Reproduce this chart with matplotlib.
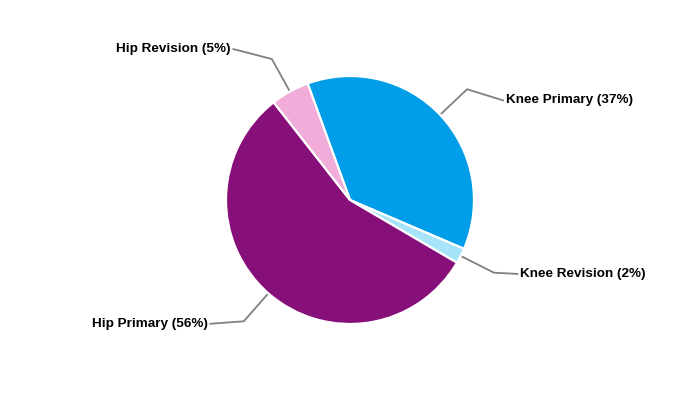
import numpy as np
import matplotlib.pyplot as plt

labels = ['Knee Primary', 'Knee Revision', 'Hip Primary', 'Hip Revision']
shares = [37, 2, 56, 5]
colors = ['#009EE9', '#A6E4FA', '#870F7A', '#F1ACD9']

# leader tail: length and vertical drift, in radius units
tail_len = [0.29, 0.19, 0.27, 0.31]
tail_dy = [-0.09, -0.01, -0.02, 0.08]

fig = plt.figure(figsize=(7, 4), dpi=100)
ax = fig.add_axes([0, 0, 1, 1])

wedges, _ = ax.pie(shares, colors=colors, startangle=110, counterclock=False,
                   radius=1, center=(0, 0),
                   wedgeprops=dict(edgecolor='white', linewidth=1.6))

for w, lab, val, dl, dy in zip(wedges, labels, shares, tail_len, tail_dy):
    mid = np.deg2rad((w.theta1 + w.theta2) / 2)
    x0, y0 = np.cos(mid), np.sin(mid)
    x1, y1 = 1.3 * x0, 1.3 * y0
    side = 1 if x0 > 0 else -1
    x2, y2 = x1 + side * dl, y1 + dy
    ax.plot([x0, x1, x2], [y0, y1, y2], color='#808080', lw=1.3, zorder=0)
    ax.text(x2 + side * 0.02, y2, f'{lab} ({val}%)', ha='left' if side > 0 else 'right',
            va='center', fontsize=9.7, fontweight='bold', family='Liberation Sans',
            color='black')

s = 124
ax.set_xlim(-350 / s, 350 / s)
ax.set_ylim(-200 / s, 200 / s)
ax.set_aspect('equal')
ax.axis('off')

fig.savefig('out.png', dpi=100)
